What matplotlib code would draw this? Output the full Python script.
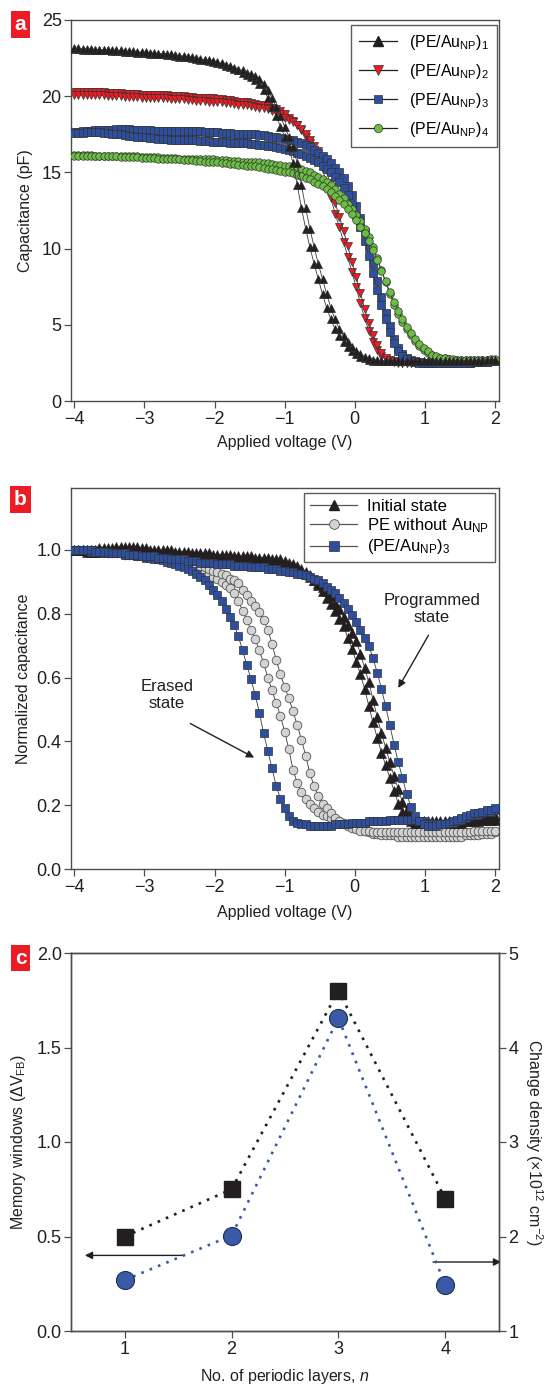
import numpy as np
import matplotlib
matplotlib.use("Agg")
import matplotlib.pyplot as plt
from matplotlib.lines import Line2D
from matplotlib import font_manager

# ---------------- fonts ----------------
_names = {f.name for f in font_manager.fontManager.ttflist}
FONT = "Liberation Sans Narrow" if "Liberation Sans Narrow" in _names else "Liberation Sans"
plt.rcParams["font.family"] = [FONT, "DejaVu Sans"]
plt.rcParams["mathtext.fontset"] = "custom"
plt.rcParams["mathtext.rm"] = FONT
plt.rcParams["mathtext.it"] = FONT + ":italic"
plt.rcParams["mathtext.bf"] = FONT + ":bold"

# ---------------- data ----------------
# voltage sweep points (V)
voltage = np.round(np.linspace(-4.0, 2.0, 101), 2)

# panel a: capacitance (pF), two sweep branches per multilayer
cap1_fwd = [23.1, 23.1, 23.05, 23.05, 23.05, 23.0, 23.0, 23.0, 23.0, 22.95,
            22.95, 22.95, 22.9, 22.9, 22.9, 22.85, 22.85, 22.85, 22.8, 22.8,
            22.75, 22.75, 22.7, 22.7, 22.65, 22.6, 22.6, 22.55, 22.5, 22.45,
            22.4, 22.35, 22.3, 22.25, 22.2, 22.1, 22.0, 21.9, 21.8, 21.7,
            21.55, 21.4, 21.25, 21.05, 20.8, 20.4, 19.9, 19.3, 18.7, 18.0,
            17.35, 16.65, 15.6, 14.15, 12.65, 11.3, 10.1, 9.0, 8.0, 7.0,
            6.1, 5.35, 4.7, 4.25, 3.9, 3.55, 3.3, 3.1, 2.9, 2.8,
            2.7, 2.65, 2.65, 2.6, 2.6, 2.6, 2.6, 2.6, 2.6, 2.6,
            2.6, 2.6, 2.6, 2.6, 2.6, 2.6, 2.6, 2.6, 2.6, 2.6,
            2.6, 2.6, 2.6, 2.65, 2.65, 2.65, 2.65, 2.7, 2.7, 2.7, 2.7]
cap1_rev = [23.15, 23.15, 23.1, 23.1, 23.1, 23.05, 23.05, 23.05, 23.05, 23.0,
            23.0, 23.0, 22.95, 22.95, 22.95, 22.9, 22.9, 22.9, 22.85, 22.85,
            22.8, 22.8, 22.75, 22.75, 22.7, 22.65, 22.65, 22.6, 22.55, 22.5,
            22.45, 22.4, 22.35, 22.3, 22.25, 22.15, 22.05, 21.95, 21.85, 21.75,
            21.7, 21.55, 21.45, 21.3, 21.1, 20.8, 20.4, 19.9, 19.3, 18.7,
            18.0, 17.35, 16.65, 15.6, 14.15, 12.65, 11.3, 10.1, 9.0, 8.0,
            7.0, 6.1, 5.35, 4.7, 4.25, 3.9, 3.55, 3.3, 3.1, 2.9,
            2.8, 2.7, 2.7, 2.65, 2.65, 2.6, 2.6, 2.6, 2.6, 2.6,
            2.6, 2.6, 2.6, 2.6, 2.6, 2.6, 2.6, 2.6, 2.6, 2.6,
            2.6, 2.6, 2.6, 2.6, 2.65, 2.65, 2.65, 2.65, 2.7, 2.7, 2.7]
cap2_fwd = [20.3, 20.3, 20.3, 20.3, 20.25, 20.25, 20.25, 20.25, 20.2, 20.2,
            20.2, 20.2, 20.15, 20.15, 20.15, 20.15, 20.1, 20.1, 20.1, 20.1,
            20.05, 20.05, 20.05, 20.0, 20.0, 20.0, 20.0, 19.95, 19.95, 19.9,
            19.9, 19.9, 19.85, 19.85, 19.8, 19.8, 19.75, 19.75, 19.7, 19.65,
            19.6, 19.6, 19.55, 19.5, 19.45, 19.4, 19.35, 19.25, 19.15, 19.05,
            18.8, 18.6, 18.4, 18.1, 17.75, 17.3, 16.9, 16.45, 16.0, 15.2,
            14.3, 13.3, 12.3, 11.4, 10.45, 9.45, 8.45, 7.45, 6.4, 5.45,
            4.6, 3.9, 3.35, 2.95, 2.75, 2.6, 2.55, 2.5, 2.5, 2.5,
            2.5, 2.5, 2.5, 2.5, 2.5, 2.5, 2.5, 2.5, 2.5, 2.5,
            2.5, 2.5, 2.5, 2.5, 2.5, 2.55, 2.55, 2.55, 2.55, 2.6, 2.6]
cap2_rev = [20.1, 20.1, 20.1, 20.1, 20.05, 20.05, 20.05, 20.05, 20.0, 20.0,
            20.0, 20.0, 19.95, 19.95, 19.95, 19.95, 19.9, 19.9, 19.9, 19.9,
            19.85, 19.85, 19.85, 19.8, 19.8, 19.8, 19.8, 19.75, 19.75, 19.7,
            19.7, 19.7, 19.65, 19.65, 19.6, 19.6, 19.55, 19.55, 19.5, 19.45,
            19.4, 19.4, 19.35, 19.3, 19.25, 19.2, 19.15, 19.05, 18.95, 18.85,
            18.6, 18.45, 18.3, 18.1, 17.85, 17.5, 17.15, 16.75, 16.4, 15.9,
            15.1, 14.0, 13.0, 12.1, 11.15, 10.15, 9.15, 8.15, 7.1, 6.05,
            5.1, 4.3, 3.65, 3.15, 2.85, 2.7, 2.6, 2.55, 2.5, 2.5,
            2.5, 2.5, 2.5, 2.5, 2.5, 2.5, 2.5, 2.5, 2.5, 2.5,
            2.5, 2.5, 2.5, 2.5, 2.5, 2.55, 2.55, 2.55, 2.55, 2.6, 2.6]
cap3_fwd = [17.65, 17.65, 17.7, 17.7, 17.7, 17.75, 17.75, 17.8, 17.8, 17.8,
            17.85, 17.85, 17.85, 17.85, 17.8, 17.8, 17.75, 17.75, 17.75, 17.7,
            17.7, 17.7, 17.7, 17.7, 17.7, 17.7, 17.7, 17.7, 17.7, 17.7,
            17.7, 17.65, 17.65, 17.65, 17.65, 17.6, 17.6, 17.6, 17.55, 17.55,
            17.55, 17.5, 17.5, 17.5, 17.45, 17.45, 17.4, 17.35, 17.3, 17.25,
            17.2, 17.15, 17.1, 17.0, 16.9, 16.8, 16.65, 16.5, 16.3, 16.1,
            15.85, 15.6, 15.3, 15.0, 14.6, 14.1, 13.5, 12.8, 12.0, 11.1,
            10.1, 9.0, 7.9, 6.8, 5.8, 4.9, 4.1, 3.5, 3.1, 2.85,
            2.7, 2.6, 2.55, 2.5, 2.5, 2.5, 2.5, 2.5, 2.5, 2.5,
            2.5, 2.5, 2.5, 2.5, 2.5, 2.55, 2.55, 2.55, 2.55, 2.6, 2.6]
cap3_rev = [17.6, 17.6, 17.6, 17.65, 17.65, 17.65, 17.65, 17.6, 17.6, 17.55,
            17.5, 17.5, 17.45, 17.4, 17.4, 17.35, 17.3, 17.3, 17.25, 17.25,
            17.2, 17.2, 17.2, 17.15, 17.15, 17.15, 17.1, 17.1, 17.1, 17.1,
            17.05, 17.05, 17.05, 17.0, 17.0, 17.0, 17.0, 16.95, 16.95, 16.95,
            16.9, 16.9, 16.85, 16.85, 16.8, 16.8, 16.75, 16.7, 16.65, 16.6,
            16.55, 16.5, 16.4, 16.3, 16.2, 16.1, 15.95, 15.8, 15.65, 15.45,
            15.25, 15.0, 14.7, 14.4, 14.0, 13.5, 12.9, 12.2, 11.4, 10.5,
            9.5, 8.4, 7.3, 6.3, 5.4, 4.5, 3.8, 3.3, 2.95, 2.75,
            2.6, 2.55, 2.5, 2.5, 2.5, 2.5, 2.5, 2.5, 2.5, 2.5,
            2.5, 2.5, 2.5, 2.5, 2.5, 2.55, 2.55, 2.55, 2.55, 2.6, 2.6]
cap4_fwd = [16.15, 16.15, 16.15, 16.15, 16.15, 16.1, 16.1, 16.1, 16.1, 16.1,
            16.1, 16.05, 16.05, 16.05, 16.05, 16.05, 16.0, 16.0, 16.0, 16.0,
            16.0, 15.95, 15.95, 15.95, 15.95, 15.9, 15.9, 15.9, 15.9, 15.9,
            15.9, 15.85, 15.85, 15.85, 15.8, 15.8, 15.8, 15.75, 15.75, 15.75,
            15.7, 15.7, 15.7, 15.65, 15.65, 15.6, 15.6, 15.55, 15.5, 15.5,
            15.45, 15.4, 15.35, 15.25, 15.2, 15.1, 15.0, 14.85, 14.7, 14.55,
            14.35, 14.15, 13.9, 13.6, 13.3, 12.95, 12.6, 12.2, 11.8, 11.3,
            10.75, 10.1, 9.4, 8.6, 7.8, 7.0, 6.3, 5.7, 5.2, 4.7,
            4.3, 3.95, 3.6, 3.35, 3.15, 3.0, 2.9, 2.85, 2.8, 2.75,
            2.7, 2.7, 2.7, 2.7, 2.7, 2.7, 2.7, 2.7, 2.7, 2.7, 2.7]
cap4_rev = [16.1, 16.1, 16.1, 16.1, 16.1, 16.05, 16.05, 16.05, 16.05, 16.05,
            16.05, 16.0, 16.0, 16.0, 16.0, 16.0, 15.95, 15.95, 15.95, 15.95,
            15.9, 15.9, 15.9, 15.85, 15.85, 15.85, 15.8, 15.8, 15.8, 15.75,
            15.75, 15.7, 15.7, 15.65, 15.65, 15.6, 15.6, 15.55, 15.55, 15.5,
            15.5, 15.45, 15.4, 15.4, 15.35, 15.3, 15.25, 15.2, 15.15, 15.1,
            15.05, 15.0, 14.95, 14.85, 14.75, 14.65, 14.55, 14.4, 14.25, 14.1,
            13.9, 13.7, 13.45, 13.2, 12.9, 12.6, 12.25, 11.85, 11.45, 11.0,
            10.5, 9.9, 9.25, 8.55, 7.85, 7.15, 6.5, 5.9, 5.35, 4.85,
            4.45, 4.1, 3.75, 3.45, 3.25, 3.05, 2.95, 2.85, 2.8, 2.75,
            2.75, 2.7, 2.7, 2.7, 2.7, 2.7, 2.7, 2.7, 2.7, 2.75, 2.75]

# panel b: normalized capacitance
init_fwd = [1.0, 1.0, 1.0, 1.0, 1.0, 1.0, 1.005, 1.005, 1.005, 1.005,
            1.01, 1.01, 1.01, 1.01, 1.01, 1.01, 1.005, 1.005, 1.0, 1.0,
            1.0, 1.0, 1.0, 1.0, 0.995, 0.995, 0.995, 0.995, 0.99, 0.99,
            0.99, 0.99, 0.99, 0.985, 0.985, 0.985, 0.985, 0.985, 0.98, 0.98,
            0.98, 0.98, 0.98, 0.975, 0.975, 0.975, 0.975, 0.97, 0.97, 0.97,
            0.965, 0.96, 0.955, 0.95, 0.94, 0.93, 0.92, 0.905, 0.89, 0.87,
            0.85, 0.83, 0.81, 0.785, 0.76, 0.725, 0.69, 0.65, 0.61, 0.565,
            0.51, 0.46, 0.41, 0.365, 0.325, 0.285, 0.245, 0.205, 0.18, 0.16,
            0.15, 0.145, 0.145, 0.145, 0.145, 0.145, 0.145, 0.145, 0.145, 0.145,
            0.145, 0.145, 0.145, 0.15, 0.15, 0.15, 0.15, 0.155, 0.155, 0.155, 0.155]
init_rev = [1.0, 1.0, 1.0, 0.995, 0.995, 0.995, 0.995, 1.0, 1.0, 1.0,
            1.0, 1.0, 1.0, 1.0, 1.0, 0.995, 0.995, 0.995, 0.99, 0.99,
            0.99, 0.99, 0.99, 0.99, 0.985, 0.985, 0.985, 0.985, 0.98, 0.98,
            0.98, 0.98, 0.98, 0.975, 0.975, 0.975, 0.975, 0.975, 0.97, 0.97,
            0.97, 0.97, 0.97, 0.965, 0.965, 0.965, 0.965, 0.96, 0.96, 0.96,
            0.955, 0.95, 0.945, 0.94, 0.935, 0.925, 0.915, 0.905, 0.895, 0.885,
            0.87, 0.855, 0.835, 0.815, 0.79, 0.765, 0.74, 0.715, 0.675, 0.63,
            0.585, 0.53, 0.475, 0.425, 0.38, 0.335, 0.29, 0.25, 0.21, 0.185,
            0.165, 0.155, 0.15, 0.15, 0.15, 0.15, 0.15, 0.15, 0.15, 0.15,
            0.15, 0.15, 0.15, 0.155, 0.155, 0.155, 0.16, 0.16, 0.16, 0.165, 0.165]
pe_fwd = [1.0, 1.0, 1.0, 1.0, 1.0, 0.995, 0.995, 0.995, 0.99, 0.99,
          0.99, 0.99, 0.985, 0.985, 0.985, 0.98, 0.98, 0.98, 0.975, 0.975,
          0.97, 0.97, 0.965, 0.965, 0.96, 0.96, 0.955, 0.95, 0.945, 0.94,
          0.935, 0.93, 0.925, 0.915, 0.91, 0.90, 0.89, 0.88, 0.865, 0.84,
          0.81, 0.78, 0.75, 0.72, 0.685, 0.645, 0.60, 0.56, 0.52, 0.48,
          0.43, 0.375, 0.31, 0.27, 0.24, 0.22, 0.205, 0.19, 0.18, 0.17,
          0.165, 0.16, 0.155, 0.15, 0.145, 0.14, 0.135, 0.13, 0.125, 0.12,
          0.115, 0.11, 0.11, 0.105, 0.105, 0.105, 0.105, 0.1, 0.1, 0.1,
          0.1, 0.1, 0.1, 0.1, 0.1, 0.1, 0.1, 0.1, 0.1, 0.1,
          0.1, 0.1, 0.1, 0.105, 0.105, 0.105, 0.105, 0.11, 0.11, 0.11, 0.115]
pe_rev = [1.0, 1.0, 1.0, 1.0, 1.0, 1.0, 1.0, 0.995, 0.995, 0.995,
          0.995, 0.99, 0.99, 0.99, 0.99, 0.985, 0.985, 0.985, 0.98, 0.98,
          0.98, 0.975, 0.975, 0.97, 0.97, 0.965, 0.965, 0.96, 0.96, 0.955,
          0.95, 0.945, 0.94, 0.935, 0.93, 0.925, 0.92, 0.91, 0.905, 0.895,
          0.875, 0.86, 0.84, 0.825, 0.805, 0.78, 0.75, 0.705, 0.655, 0.61,
          0.57, 0.535, 0.495, 0.45, 0.405, 0.355, 0.30, 0.26, 0.23, 0.205,
          0.19, 0.175, 0.16, 0.15, 0.14, 0.135, 0.13, 0.125, 0.12, 0.12,
          0.12, 0.115, 0.115, 0.115, 0.115, 0.115, 0.115, 0.115, 0.115, 0.115,
          0.115, 0.115, 0.115, 0.115, 0.115, 0.115, 0.115, 0.115, 0.115, 0.115,
          0.115, 0.115, 0.115, 0.115, 0.115, 0.12, 0.12, 0.12, 0.12, 0.12, 0.12]
np3_erased = [1.0, 1.0, 1.0, 1.0, 0.995, 0.995, 0.995, 0.995, 0.99, 0.99,
              0.99, 0.99, 0.985, 0.985, 0.985, 0.98, 0.98, 0.975, 0.975, 0.97,
              0.97, 0.967, 0.963, 0.96, 0.955, 0.95, 0.945, 0.94, 0.933, 0.925,
              0.915, 0.905, 0.89, 0.875, 0.86, 0.84, 0.815, 0.79, 0.765, 0.73,
              0.685, 0.64, 0.595, 0.545, 0.49, 0.425, 0.37, 0.315, 0.26, 0.22,
              0.19, 0.165, 0.15, 0.145, 0.14, 0.14, 0.135, 0.135, 0.135, 0.135,
              0.135, 0.135, 0.14, 0.14, 0.14, 0.14, 0.145, 0.145, 0.145, 0.145,
              0.15, 0.15, 0.15, 0.15, 0.15, 0.155, 0.155, 0.155, 0.155, 0.155,
              0.155, 0.155, 0.15, 0.15, 0.145, 0.14, 0.14, 0.14, 0.14, 0.145,
              0.145, 0.15, 0.155, 0.16, 0.165, 0.17, 0.17, 0.175, 0.18, 0.18, 0.185]
np3_programmed = [1.0, 1.0, 1.0, 1.0, 1.0, 0.995, 0.995, 0.995, 0.995, 0.99,
                  0.99, 0.99, 0.99, 0.985, 0.985, 0.985, 0.98, 0.98, 0.98, 0.98,
                  0.975, 0.975, 0.975, 0.97, 0.97, 0.97, 0.97, 0.965, 0.965, 0.965,
                  0.96, 0.96, 0.96, 0.96, 0.955, 0.955, 0.955, 0.955, 0.95, 0.95,
                  0.95, 0.95, 0.945, 0.945, 0.945, 0.945, 0.94, 0.94, 0.94, 0.935,
                  0.935, 0.93, 0.93, 0.925, 0.925, 0.92, 0.915, 0.91, 0.905, 0.895,
                  0.885, 0.875, 0.865, 0.85, 0.835, 0.815, 0.795, 0.775, 0.75, 0.725,
                  0.70, 0.66, 0.615, 0.565, 0.51, 0.45, 0.39, 0.335, 0.285, 0.235,
                  0.195, 0.165, 0.15, 0.14, 0.135, 0.135, 0.135, 0.14, 0.14, 0.145,
                  0.15, 0.155, 0.16, 0.165, 0.17, 0.175, 0.175, 0.18, 0.185, 0.185, 0.19]

# panel c
layers = [1, 2, 3, 4]
memory_window = [0.50, 0.75, 1.80, 0.70]
charge_density = [1.54, 2.01, 4.31, 1.49]

# ---------------- styling ----------------
W, H = 553, 1384
fig = plt.figure(figsize=(W / 100, H / 100), dpi=100)

def fx(px):
    return px / W

def fy(py):
    return 1 - py / H

AX_L, AX_R = 71.4, 498.6
TXT = "#231f20"
SPINE = "#4d4d4d"
TICK_FS = 13
LAB_FS = 11.5

def make_axes(top, bottom):
    return fig.add_axes([fx(AX_L), fy(bottom), fx(AX_R - AX_L), (bottom - top) / H])

def style_axes(ax):
    for s in ax.spines.values():
        s.set_color(SPINE)
        s.set_linewidth(1.0)
    ax.tick_params(direction="out", length=5, width=0.9, color=SPINE,
                   labelsize=TICK_FS, labelcolor=TXT, pad=2)

def panel_label(px, py, letter):
    fig.text(fx(px), fy(py), letter, color="white", fontsize=15, fontweight="bold",
             ha="center", va="center", family="Liberation Sans",
             bbox=dict(boxstyle="square,pad=0.18", fc="#ed1c24", ec="none"))

LINE_KW = dict(color="#3a3a3a", lw=0.6)

# ---------------- panel a ----------------
ax = make_axes(20, 401)
style_axes(ax)
series_a = [
    (cap2_fwd, cap2_rev, "v", "#ec1c24", 6.2, 2),
    (cap3_fwd, cap3_rev, "s", "#2d4f9e", 5.2, 3),
    (cap4_fwd, cap4_rev, "o", "#6cbd45", 5.4, 4),
    (cap1_fwd, cap1_rev, "^", "#231f20", 6.4, 5),
]
for fwd, rev, mk, col, ms, z in series_a:
    for arr in (fwd, rev):
        ax.plot(voltage, arr, marker=mk, ms=ms, mfc=col, mec="#333333", mew=0.5,
                zorder=z, **LINE_KW)
ax.set_xlim(-4.04, 2.05)
ax.set_ylim(0, 25)
ax.set_xticks([-4, -3, -2, -1, 0, 1, 2])
ax.set_xticklabels(["\u22124", "\u22123", "\u22122", "\u22121", "0", "1", "2"])
ax.set_yticks([0, 5, 10, 15, 20, 25])
ax.set_xlabel("Applied voltage (V)", fontsize=LAB_FS, color=TXT, labelpad=5)
ax.set_ylabel("Capacitance (pF)", fontsize=LAB_FS, color=TXT, labelpad=6)
handles_a = [
    Line2D([], [], color="#231f20", lw=0.9, marker="^", ms=6.5, mfc="#231f20", mec="#231f20"),
    Line2D([], [], color="#231f20", lw=0.9, marker="v", ms=6.5, mfc="#ec1c24", mec="#333333", mew=0.5),
    Line2D([], [], color="#231f20", lw=0.9, marker="s", ms=5.5, mfc="#2d4f9e", mec="#333333", mew=0.5),
    Line2D([], [], color="#231f20", lw=0.9, marker="o", ms=6, mfc="#6cbd45", mec="#333333", mew=0.5),
]
labels_a = [r"(PE/Au$_\mathregular{NP}$)$_\mathregular{%d}$" % i for i in (1, 2, 3, 4)]
leg = ax.legend(handles_a, labels_a, loc="upper right", bbox_to_anchor=(0.9955, 0.987),
                borderaxespad=0, fontsize=11.5, handlelength=2.4, handletextpad=0.7,
                labelspacing=0.62, borderpad=0.5, frameon=True, fancybox=False)
leg.get_frame().set_edgecolor("#333333")
leg.get_frame().set_linewidth(1.0)
panel_label(20.5, 24.5, "a")

# ---------------- panel b ----------------
ax = make_axes(488, 869)
style_axes(ax)
for arr in (pe_fwd, pe_rev):
    ax.plot(voltage, arr, marker="o", ms=6.2, mfc="#d3d3d3", mec="#555555", mew=0.6,
            zorder=2, **LINE_KW)
for arr in (init_fwd, init_rev):
    ax.plot(voltage, arr, marker="^", ms=7.2, mfc="#231f20", mec="#231f20", mew=0.4,
            zorder=3, **LINE_KW)
for arr in (np3_erased, np3_programmed):
    ax.plot(voltage, arr, marker="s", ms=6.0, mfc="#2d4f9e", mec="#333333", mew=0.5,
            zorder=4, **LINE_KW)
ax.set_xlim(-4.04, 2.05)
ax.set_ylim(0, 1.194)
ax.set_xticks([-4, -3, -2, -1, 0, 1, 2])
ax.set_xticklabels(["\u22124", "\u22123", "\u22122", "\u22121", "0", "1", "2"])
ax.set_yticks([0.0, 0.2, 0.4, 0.6, 0.8, 1.0])
ax.set_yticklabels(["0.0", "0.2", "0.4", "0.6", "0.8", "1.0"])
ax.set_xlabel("Applied voltage (V)", fontsize=LAB_FS, color=TXT, labelpad=7)
ax.set_ylabel("Normalized capacitance", fontsize=LAB_FS, color=TXT, labelpad=4)
handles_b = [
    Line2D([], [], color="#555555", lw=0.9, marker="^", ms=7.5, mfc="#231f20", mec="#231f20"),
    Line2D([], [], color="#555555", lw=0.9, marker="o", ms=7, mfc="#d3d3d3", mec="#555555", mew=0.6),
    Line2D([], [], color="#555555", lw=0.9, marker="s", ms=6.5, mfc="#2d4f9e", mec="#333333", mew=0.5),
]
labels_b = ["Initial state", r"PE without Au$_\mathregular{NP}$",
            r"(PE/Au$_\mathregular{NP}$)$_\mathregular{3}$"]
leg = ax.legend(handles_b, labels_b, loc="upper right", bbox_to_anchor=(0.9916, 0.987),
                borderaxespad=0, fontsize=12, handlelength=2.8, handletextpad=0.6,
                labelspacing=0.15, borderpad=0.35, frameon=True, fancybox=False)
leg.get_frame().set_edgecolor("#333333")
leg.get_frame().set_linewidth(1.0)
ax.text(1.1, 0.815, "Programmed\nstate", ha="center", va="center", fontsize=12,
        color=TXT, linespacing=1.1)
ax.annotate("", xy=(0.6, 0.56), xytext=(1.07, 0.74),
            arrowprops=dict(arrowstyle="-|>", color="#231f20", lw=1.0, mutation_scale=11))
ax.text(-2.68, 0.545, "Erased\nstate", ha="center", va="center", fontsize=12,
        color=TXT, linespacing=1.1)
ax.annotate("", xy=(-1.40, 0.345), xytext=(-2.38, 0.46),
            arrowprops=dict(arrowstyle="-|>", color="#231f20", lw=1.0, mutation_scale=11))
panel_label(20.5, 499.5, "b")

# ---------------- panel c ----------------
ax = make_axes(953, 1331)
style_axes(ax)
ax2 = ax.twinx()
style_axes(ax2)
ax.spines["top"].set_color("#231f20")
ax.plot(layers, memory_window, linestyle=(0, (1, 2.4)), lw=1.9, color="#231f20",
        marker="s", ms=12, mfc="#231f20", mec="#231f20", zorder=3)
ax2.plot(layers, charge_density, linestyle=(0, (1, 2.4)), lw=1.9, color="#3b5aa6",
         marker="o", ms=13, mfc="#3b5aa6", mec="#1f2f5a", mew=0.8, zorder=3)
ax.set_xlim(0.5, 4.5)
ax.set_ylim(0, 2.0)
ax2.set_ylim(1, 5)
ax.set_xticks(layers)
ax.set_yticks([0.0, 0.5, 1.0, 1.5, 2.0])
ax.set_yticklabels(["0.0", "0.5", "1.0", "1.5", "2.0"])
ax2.set_yticks([1, 2, 3, 4, 5])
ax.set_xlabel(r"No. of periodic layers, $\mathit{n}$", fontsize=LAB_FS, color=TXT, labelpad=7)
ax.set_ylabel(r"Memory windows ($\Delta$V$_\mathregular{FB}$)", fontsize=LAB_FS, color=TXT, labelpad=6)
ax2.set_ylabel(r"Change density ($\times$10$^\mathregular{12}$ cm$^\mathregular{-2}$)",
               fontsize=LAB_FS, color=TXT, rotation=270, labelpad=19)
ax.annotate("", xy=(0.6, 0.40), xytext=(1.57, 0.40),
            arrowprops=dict(arrowstyle="-|>", color="#231f20", lw=1.0, mutation_scale=11))
ax.annotate("", xy=(4.55, 0.365), xytext=(3.86, 0.365), annotation_clip=False,
            arrowprops=dict(arrowstyle="-|>", color="#231f20", lw=1.0, mutation_scale=11))
panel_label(20.5, 958, "c")

fig.savefig("out.png", dpi=100)
